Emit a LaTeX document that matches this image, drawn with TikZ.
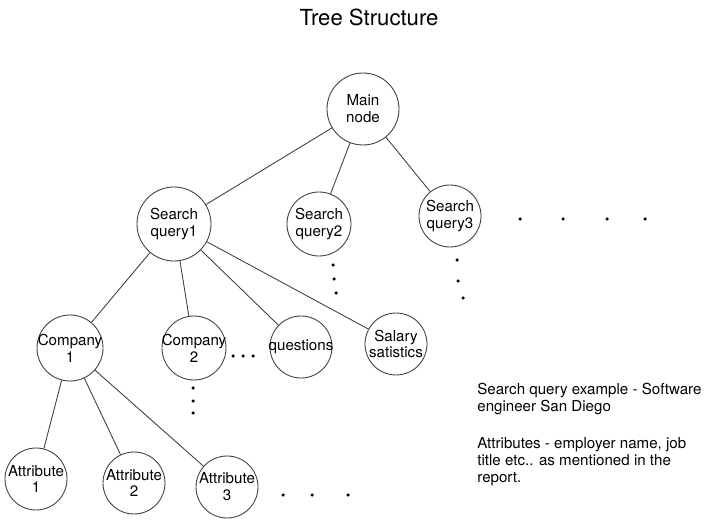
\documentclass[tikz,border=0pt]{standalone}
\usepackage{fontspec}
\setmainfont{TeX Gyre Heros}
\begin{document}
\begin{tikzpicture}[
    every node/.style={font=\fontsize{8.6}{9.6}\selectfont},
    tnode/.style={circle, draw=black!75, line width=0.5pt, inner sep=-10pt, minimum size=#1, align=center},
    tnode/.default=1.24cm,
    link/.style={draw=black!75, line width=0.5pt}]
    \useasboundingbox (0,0) rectangle (14.14,10.5);

    % title
    \node[font=\fontsize{12.6}{14}\selectfont] (title) at (7.38,10.16) {Tree Structure};

    % top levels
    \node[tnode=1.44cm] (main) at (7.26,8.32) {Main\\node};
    \node[tnode=1.48cm] (q1) at (3.48,6.02) {Search\\query1};
    \node[tnode=1.28cm] (q2) at (6.38,6.02) {Search\\query2};
    \node[tnode] (q3) at (9.00,6.18) {Search\\query3};

    % children of query 1
    \node[tnode=1.32cm] (c1) at (1.40,3.54) {Company\\1};
    \node[tnode=1.28cm] (c2) at (3.88,3.54) {Company\\2};
    \node[tnode] (qs) at (6.02,3.56) {questions};
    \node[tnode] (sal) at (7.92,3.62) {Salary\\satistics};

    % attributes
    \node[tnode] (a1) at (0.72,0.92) {Attribute\\1};
    \node[tnode] (a2) at (2.68,0.84) {Attribute\\2};
    \node[tnode] (a3) at (4.54,0.76) {Attribute\\3};

    % links
    \foreach \a/\b in {main/q1, main/q2, main/q3, q1/c1, q1/c2, q1/qs, q1/sal, c1/a1, c1/a2, c1/a3} {
        \path[link] (\a) -- (\b);
    }

    % dots
    \foreach \x/\y in {6.66/5.20, 6.68/4.92, 6.72/4.64, 9.14/5.30, 9.16/4.88, 9.26/4.54,
                       10.40/6.12, 11.26/6.12, 12.14/6.12, 12.90/6.12,
                       4.66/3.38, 4.86/3.38, 5.06/3.38, 3.86/2.74, 3.86/2.48, 3.86/2.24,
                       5.66/0.60, 6.24/0.60, 6.96/0.60} {
        \fill (\x,\y) circle (0.035);
    }

    % notes
    \node[anchor=north west, align=left, inner sep=0] (note) at (9.54,2.84)
        {Search query example - Software\\engineer San Diego\\[11.4pt]Attributes - employer name, job\\title etc.. as mentioned in the\\report.};
\end{tikzpicture}
\end{document}
